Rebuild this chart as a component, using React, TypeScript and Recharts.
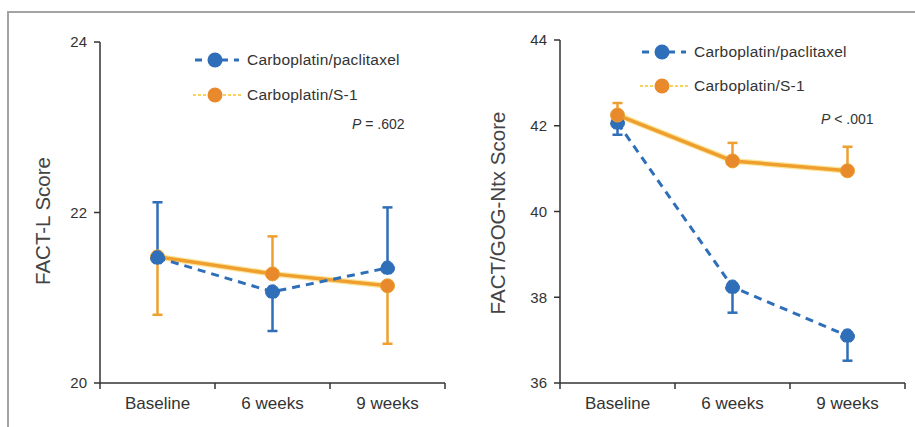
import React from 'react';
import { LineChart, Line, XAxis, YAxis, ErrorBar } from 'recharts';

const categories = ['Baseline', '6 weeks', '9 weeks'];
const xTicks = [0, 1, 2, 3];

const factLTicks = [20, 22, 24];
const factLPaclitaxel = [21.47, 21.07, 21.35];
const factLPaclitaxelErrLow = [0, 0.46, 0];
const factLPaclitaxelErrHigh = [0.65, 0, 0.71];
const factLS1 = [21.48, 21.28, 21.14];
const factLS1ErrLow = [0.68, 0, 0.68];
const factLS1ErrHigh = [0, 0.44, 0];

const ntxTicks = [36, 38, 40, 42, 44];
const ntxPaclitaxel = [42.07, 38.24, 37.1];
const ntxPaclitaxelErrLow = [0.28, 0.6, 0.58];
const ntxPaclitaxelErrHigh = [0, 0, 0];
const ntxS1 = [42.25, 41.18, 40.95];
const ntxS1ErrLow = [0, 0, 0];
const ntxS1ErrHigh = [0.28, 0.42, 0.56];

const seriesNames = ['Carboplatin/paclitaxel', 'Carboplatin/S-1'];

const BLUE = '#2F6EB8';
const ORANGE_DOT = '#E8892B';
const ORANGE_LINE = '#EE9F2E';
const ORANGE_GLOW = '#F8D35C';
const AXIS = '#333';
const FONT = '"Liberation Sans", Arial, Helvetica, sans-serif';
const PLOT_W = 345;
const HALF_BAND = PLOT_W / 6;

const buildRows = (
  pac: number[], pacLo: number[], pacHi: number[],
  s1: number[], s1Lo: number[], s1Hi: number[]
) =>
  categories.map((name, i) => ({
    name,
    pos: i + 0.5,
    pac: pac[i],
    pacErr: [pacLo[i], pacHi[i]],
    s1: s1[i],
    s1Err: [s1Lo[i], s1Hi[i]],
  }));

const factLRows = buildRows(factLPaclitaxel, factLPaclitaxelErrLow, factLPaclitaxelErrHigh, factLS1, factLS1ErrLow, factLS1ErrHigh);
const ntxRows = buildRows(ntxPaclitaxel, ntxPaclitaxelErrLow, ntxPaclitaxelErrHigh, ntxS1, ntxS1ErrLow, ntxS1ErrHigh);

const XTick = (props: any) => {
  const { x, y, payload } = props;
  const label = categories[payload.value];
  if (!label) return null;
  return (
    <text x={x + HALF_BAND} y={y + 18} textAnchor="middle" fill={AXIS} fontSize={17} fontFamily={FONT}>
      {label}
    </text>
  );
};

const LegendBlock = ({ left, top, gap }: { left: number; top: number; gap: number }) => (
  <div style={{ position: 'absolute', left, top, fontFamily: FONT, fontSize: 15.5, color: '#333' }}>
    {seriesNames.map((n, i) => (
      <div key={n} style={{ display: 'flex', alignItems: 'center', height: 20, marginBottom: i === 0 ? gap : 0 }}>
        <svg width={48} height={20} style={{ display: 'block' }}>
          {i === 0 ? (
            <line x1={2} y1={10} x2={46} y2={10} stroke={BLUE} strokeWidth={3} strokeDasharray="7 6" />
          ) : (
            <line x1={0} y1={10} x2={48} y2={10} stroke={ORANGE_GLOW} strokeWidth={2} strokeDasharray="3 2" />
          )}
          <circle cx={22} cy={10} r={7.5} fill={i === 0 ? BLUE : ORANGE_DOT} />
        </svg>
        <span style={{ marginLeft: 6, letterSpacing: 0.2 }}>{n}</span>
      </div>
    ))}
  </div>
);

const YTitle = ({ text, cx, cy }: { text: string; cx: number; cy: number }) => (
  <div
    style={{
      position: 'absolute', left: cx, top: cy, transform: 'translate(-50%, -50%) rotate(-90deg)',
      whiteSpace: 'nowrap', fontFamily: FONT, fontSize: 20.5, color: '#444', lineHeight: '24px',
    }}
  >
    {text}
  </div>
);

const PText = ({ left, top, op, val }: { left: number; top: number; op: string; val: string }) => (
  <div style={{ position: 'absolute', left, top, fontFamily: FONT, fontSize: 14, color: '#333', whiteSpace: 'nowrap' }}>
    <i>P</i> {op} {val}
  </div>
);

const Panel = ({ rows, domain, ticks, margin, width, blueOnTop }: any) => {
  const blue = (
    <Line
      key="pac"
      dataKey="pac"
      stroke={BLUE}
      strokeWidth={3}
      strokeDasharray="8 6"
      dot={{ r: 7, fill: BLUE, stroke: BLUE, strokeWidth: 1 }}
      isAnimationActive={false}
    >
      <ErrorBar dataKey="pacErr" width={5} stroke={BLUE} strokeWidth={2.5} direction="y" />
    </Line>
  );
  const orange = [
    <Line key="s1glow" dataKey="s1" stroke={ORANGE_GLOW} strokeWidth={6} strokeOpacity={0.6} dot={false} isAnimationActive={false} />,
    <Line
      key="s1"
      dataKey="s1"
      stroke={ORANGE_LINE}
      strokeWidth={3.5}
      dot={{ r: 7, fill: ORANGE_DOT, stroke: ORANGE_LINE, strokeWidth: 1 }}
      isAnimationActive={false}
    >
      <ErrorBar dataKey="s1Err" width={5} stroke={ORANGE_LINE} strokeWidth={2.5} direction="y" />
    </Line>,
  ];
  return (
    <LineChart width={width} height={427} data={rows} margin={margin}>
      <XAxis
        dataKey="pos"
        type="number"
        domain={[0, 3]}
        ticks={xTicks}
        interval={0}
        height={30}
        tick={<XTick />}
        tickSize={6}
        tickMargin={2}
        axisLine={{ stroke: AXIS, strokeWidth: 1.5 }}
        tickLine={{ stroke: AXIS, strokeWidth: 1.5 }}
      />
      <YAxis
        type="number"
        domain={domain}
        ticks={ticks}
        interval={0}
        width={60}
        tickSize={6}
        tickMargin={7}
        tick={{ fill: AXIS, fontSize: 15, fontFamily: FONT }}
        axisLine={{ stroke: AXIS, strokeWidth: 1.5 }}
        tickLine={{ stroke: AXIS, strokeWidth: 1.5 }}
      />
      {blueOnTop ? [...orange, blue] : [blue, ...orange]}
    </LineChart>
  );
};

export default function App() {
  return (
    <div style={{ position: 'absolute', left: 0, top: 0, width: 915, height: 427, background: '#fff', overflow: 'hidden' }}>
      <div
        style={{
          position: 'absolute', left: 7, top: 11, width: 940, height: 450,
          borderLeft: '2px solid #a3a3a3', borderTop: '2px solid #a3a3a3',
        }}
      />
      <div style={{ position: 'absolute', left: 0, top: 0 }}>
        <Panel rows={factLRows} domain={[20, 24]} ticks={factLTicks} width={455} margin={{ top: 42, right: 10, bottom: 14, left: 40 }} blueOnTop />
      </div>
      <div style={{ position: 'absolute', left: 455, top: 0 }}>
        <Panel rows={ntxRows} domain={[36, 44]} ticks={ntxTicks} width={460} margin={{ top: 40, right: 10, bottom: 14, left: 45 }} blueOnTop={false} />
      </div>
      <YTitle text="FACT-L Score" cx={43} cy={221} />
      <YTitle text="FACT/GOG-Ntx Score" cx={498} cy={213} />
      <LegendBlock left={193} top={50} gap={15} />
      <LegendBlock left={640} top={42} gap={14} />
      <PText left={352} top={116} op="=" val=".602" />
      <PText left={821} top={111} op="<" val=".001" />
    </div>
  );
}
